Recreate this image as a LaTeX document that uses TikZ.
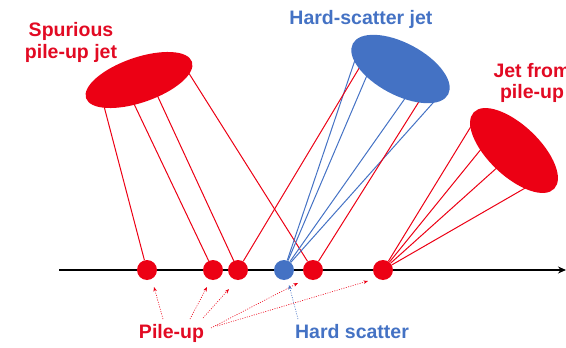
\documentclass[tikz,border=0pt]{standalone}
\usepackage{fontspec}
\setmainfont{Liberation Sans}
\usetikzlibrary{arrows.meta,shapes.geometric}
\definecolor{jred}{RGB}{236,0,20}
\definecolor{tred}{RGB}{226,10,35}
\definecolor{jblue}{RGB}{68,114,196}
\pgfdeclarelayer{bg}
\pgfsetlayers{bg,main}
\begin{document}
\begin{tikzpicture}[x=1pt,y=-1pt,
  vtx/.style={circle,fill=jred,inner sep=0pt,minimum size=20pt},
  hvtx/.style={vtx,fill=jblue},
  jetshape/.style={ellipse,inner sep=0pt},
  redtrk/.style={jred,line width=1pt,shorten <=-7pt},
  bluetrk/.style={jblue,line width=1pt,shorten <=-7pt},
  lbl/.style={font=\fontsize{19.5}{21.5}\selectfont\bfseries,align=center,inner sep=0pt},
  pointer/.style={line width=0.6pt,dash pattern=on 1pt off 1.4pt,-{Stealth[length=4.5pt,width=3.5pt]}},
  axisline/.style={line width=2.2pt,-{Stealth[length=8pt,width=7pt]}}]
\useasboundingbox (0,0) rectangle (566,348);

% axis
\coordinate (axL) at (59,270);
\coordinate (axR) at (566,270);
\begin{pgfonlayer}{bg}
\draw[axisline] (axL) -- (axR);
\end{pgfonlayer}

% vertices
\node[vtx]  (v1) at (147,270) {};
\node[vtx]  (v2) at (213,270) {};
\node[vtx]  (v3) at (238,270) {};
\node[hvtx] (h)  at (284,270) {};
\node[vtx]  (v4) at (313,270) {};
\node[vtx]  (v5) at (383,270) {};

% jets
\node[jetshape,fill=jred,rotate=19,minimum width=112pt,minimum height=45pt] (sj) at (139,80) {};
\node[jetshape,fill=jblue,rotate=-28,minimum width=108pt,minimum height=52pt] (hj) at (400.5,69) {};
\node[jetshape,fill=jred,rotate=-43.5,minimum width=111pt,minimum height=51pt] (pj) at (514,150.5) {};

% track end points on the jets
\coordinate (s1) at (105,110);
\coordinate (s2) at (135,106);
\coordinate (s3) at (158,97);
\coordinate (s4) at (190,75);
\coordinate (b1) at (355,60);
\coordinate (b2) at (368,73);
\coordinate (b3) at (406,97);
\coordinate (b4) at (432,104);
\coordinate (r1) at (361,65);
\coordinate (r2) at (420,100);
\coordinate (q1) at (470,128);
\coordinate (q2) at (482,148);
\coordinate (q3) at (500,165);
\coordinate (q4) at (527,187);

\begin{pgfonlayer}{bg}
\draw[redtrk] (s1) -- (v1);
\draw[redtrk] (s2) -- (v2);
\draw[redtrk] (s3) -- (v3);
\draw[redtrk] (s4) -- (v4);
\draw[bluetrk] (b1) -- (h);
\draw[bluetrk] (b2) -- (h);
\draw[bluetrk] (b3) -- (h);
\draw[bluetrk] (b4) -- (h);
\draw[redtrk] (r1) -- (v3);
\draw[redtrk] (r2) -- (v4);
\draw[redtrk] (q1) -- (v5);
\draw[redtrk] (q2) -- (v5);
\draw[redtrk] (q3) -- (v5);
\draw[redtrk] (q4) -- (v5);
\end{pgfonlayer}

% labels
\node[lbl,text=tred,anchor=north] (lsp) at (71,22.5) {Spurious\\pile-up jet};
\node[lbl,text=jblue,anchor=base] (lhj) at (361,24) {Hard-scatter jet};
\node[lbl,text=tred,anchor=north] (lpj) at (532,63) {Jet from\\pile-up};
\node[lbl,text=tred,anchor=base] (lpu) at (171.5,338) {Pile-up};
\node[lbl,text=jblue,anchor=base] (lhs) at (352,338) {Hard scatter};

% pointers
\coordinate (a1s) at (163,319); \coordinate (a1e) at (154,287);
\coordinate (a2s) at (190,319); \coordinate (a2e) at (207,287);
\coordinate (a3s) at (203,318); \coordinate (a3e) at (229,289);
\coordinate (a4s) at (211,328); \coordinate (a4e) at (298,283);
\coordinate (a5s) at (217,326); \coordinate (a5e) at (368,281);
\coordinate (a6s) at (298,319); \coordinate (a6e) at (289,285);
\draw[pointer,jred] (a1s) -- (a1e);
\draw[pointer,jred] (a2s) -- (a2e);
\draw[pointer,jred] (a3s) -- (a3e);
\draw[pointer,jred] (a4s) -- (a4e);
\draw[pointer,jred] (a5s) -- (a5e);
\draw[pointer,jblue] (a6s) -- (a6e);
\end{tikzpicture}
\end{document}
